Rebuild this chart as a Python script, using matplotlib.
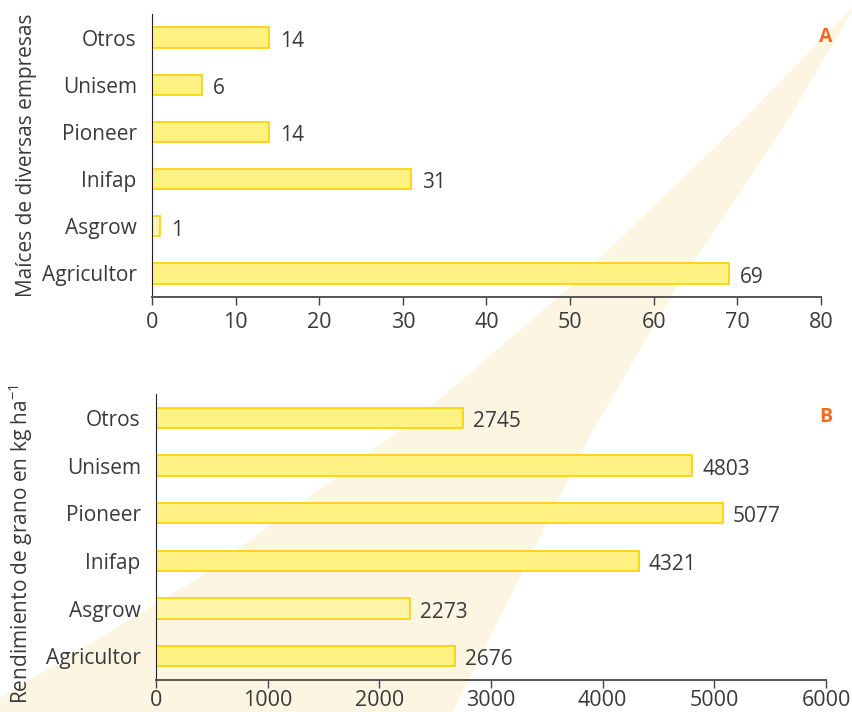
import matplotlib.pyplot as plt
from matplotlib.patches import Polygon

plt.rcParams['font.family'] = ['Open Sans', 'DejaVu Sans']
plt.rcParams['mathtext.fontset'] = 'custom'
plt.rcParams['mathtext.rm'] = 'Open Sans'

# datos
empresas = ['Agricultor', 'Asgrow', 'Inifap', 'Pioneer', 'Unisem', 'Otros']
maices = [69, 1, 31, 14, 6, 14]
rendimiento = [2676, 2273, 4321, 5077, 4803, 2745]

fill = '#FFF283'
fill_light = '#FFF5A8'
edge = '#FFCF00'
txt = '#3a3a3a'
naranja = '#F26B21'
fs = 15

W, H = 853, 712
fig = plt.figure(figsize=(W / 100, H / 100), dpi=100)

# haz de luz del fondo (pixeles de la figura)
haz = [(900, -60), (853, 10), (788, 120), (677, 287), (593, 430), (453, 712),
       (0, 712), (0, 698), (200, 577), (373, 450), (427, 410), (570, 287),
       (743, 120), (853, 7), (900, -30)]
fig.patches.append(Polygon([(x / W, 1 - y / H) for x, y in haz], closed=True,
                           transform=fig.transFigure, facecolor='#FCF5E2',
                           edgecolor='none', zorder=-5))


def panel(rect, valores, xmax, paso, ylab, letra, gap, lx, xpad):
    ax = fig.add_axes(rect)
    ax.set_zorder(2)
    ax.patch.set_alpha(0)
    colores = [fill_light if e == 'Asgrow' else fill for e in empresas]
    ax.barh(range(len(empresas)), valores, height=0.43, color=colores,
            edgecolor=edge, linewidth=1.2)
    for i, v in enumerate(valores):
        ax.text(v + gap, i - 0.08, str(v), va='center', ha='left',
                fontsize=fs, color=txt)
    ax.set_xlim(0, xmax)
    ax.set_ylim(-0.5, 5.5)
    ax.set_xticks(range(0, xmax + 1, paso))
    ax.set_yticks(range(len(empresas)))
    ax.set_yticklabels(empresas)
    ax.tick_params(axis='y', length=0, pad=11, labelsize=fs, labelcolor=txt)
    ax.tick_params(axis='x', length=6, width=1, color='#444444', pad=xpad,
                   labelsize=fs + 0.5, labelcolor=txt)
    ax.spines['top'].set_visible(False)
    ax.spines['right'].set_visible(False)
    ax.spines['left'].set_color('#222222')
    ax.spines['bottom'].set_color('#555555')
    ax.spines['bottom'].set_linewidth(1.4)
    ax.set_ylabel(ylab, fontsize=fs, color=txt)
    ax.text(lx, 0.955, letra, transform=ax.transAxes, ha='center', va='top',
            fontsize=14, fontweight='bold', color=naranja)
    return ax


a1 = panel([152 / W, 1 - 297 / H, (821 - 152) / W, (297 - 14) / H],
           maices, 80, 10, 'Maíces de diversas empresas', 'A', 1.3, 1.007, 5)
a2 = panel([156 / W, 1 - 680 / H, (826 - 156) / W, (680 - 394) / H],
           rendimiento, 6000, 1000, 'Rendimiento de grano en kg ha$^{-1}$',
           'B', 90, 1.0, 1.5)
a1.yaxis.set_label_coords(-0.172, 0.5)
a2.yaxis.set_label_coords(-0.18, 0.475)

fig.savefig('out.png', dpi=100)
